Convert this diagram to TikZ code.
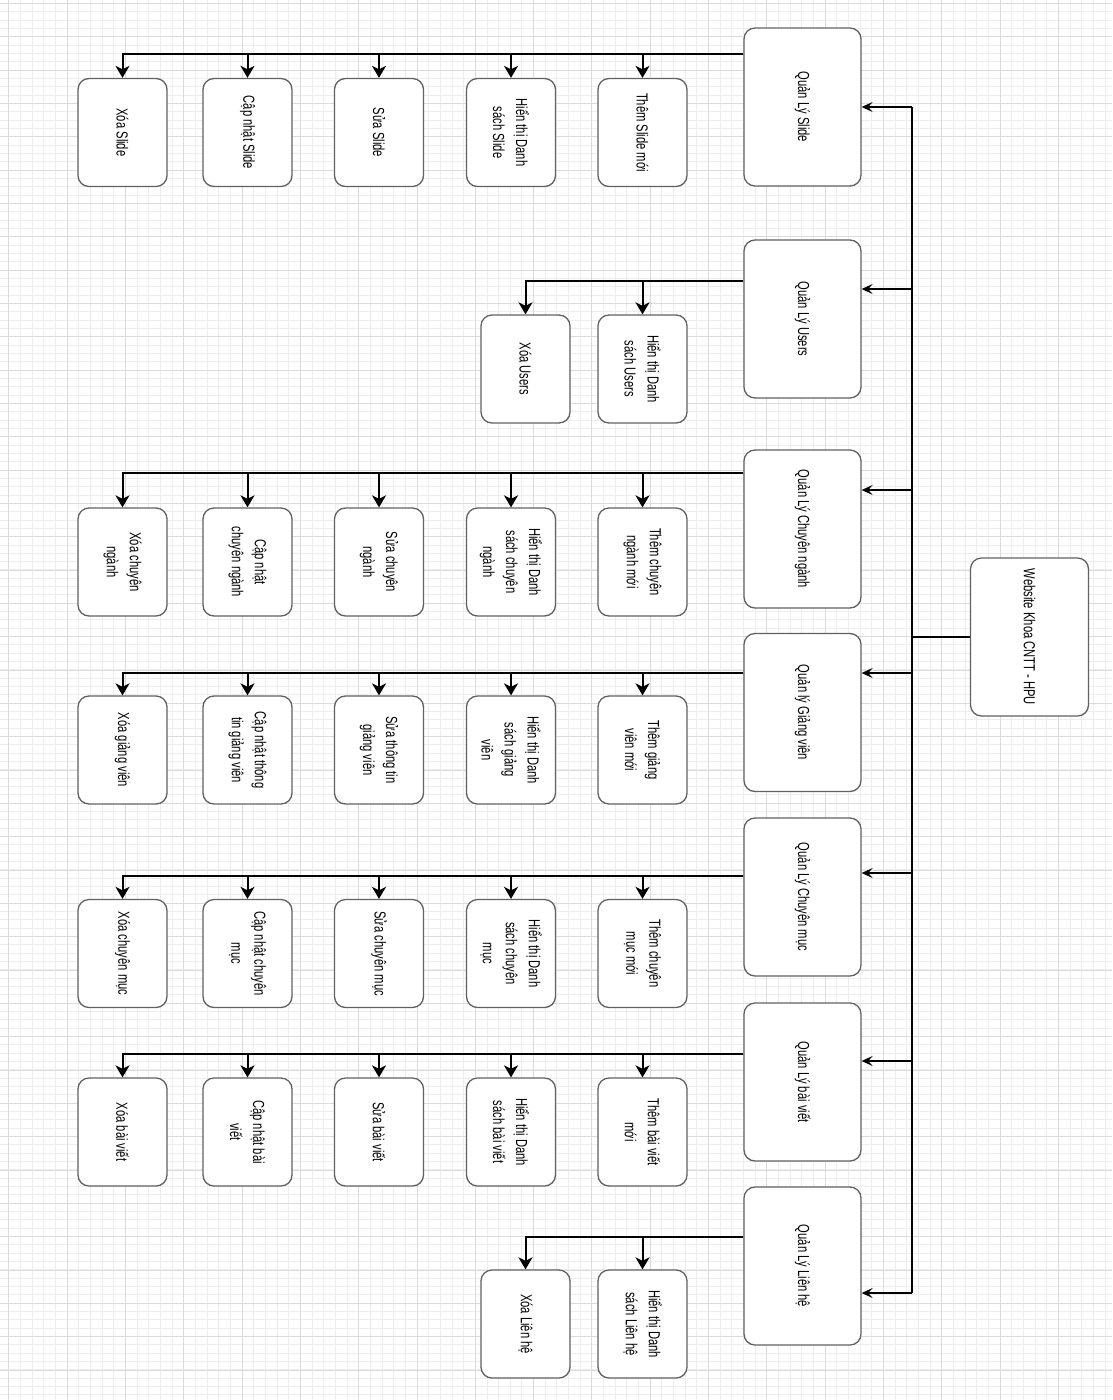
\documentclass[tikz,border=0pt]{standalone}
\usepackage{fontspec}
\setmainfont{Liberation Sans}
\newfontfamily\boxfont[FakeStretch=0.7]{Liberation Sans}
\usetikzlibrary{arrows.meta,calc}
\tikzset{
  gridminor/.style={draw=black!7, line width=0.5pt},
  gridmajor/.style={draw=black!14, line width=0.6pt},
  box/.style={draw=black!62, line width=1.3pt, rounded corners=11pt, fill=white,
    rotate=-90, align=center, inner sep=2pt, text=black,
    font={\boxfont\fontsize{16pt}{23pt}\selectfont}},
  leaf/.style={box, minimum width=108pt, minimum height=89pt},
  mgr/.style={box, minimum width=158pt, minimum height=117pt},
  rootbox/.style={box, minimum width=158pt, minimum height=118pt},
  busline/.style={line width=2.2pt},
  subarrow/.style={line width=2pt, -{Stealth[length=12pt,width=14pt,inset=3.5pt]}},
  busarrow/.style={line width=1.5pt, -{Stealth[length=11pt,width=10pt,inset=4.5pt]}},
}
\begin{document}
\begin{tikzpicture}[x=1pt,y=-1pt]
\useasboundingbox (0,0) rectangle (1112,1400);
\fill[white] (0,0) rectangle (1112,1400);
% grid
\foreach \i in {0,...,95} \draw[gridminor] ({8.7+\i*11.66},0) -- ({8.7+\i*11.66},1400);
\foreach \i in {0,...,168} \draw[gridminor] (0,{3.3+\i*8.33}) -- (1112,{3.3+\i*8.33});
\foreach \i in {0,...,19} \draw[gridmajor] ({8.7+\i*58.3},0) -- ({8.7+\i*58.3},1400);
\foreach \i in {0,...,42} \draw[gridmajor] (0,{3.3+\i*33.33}) -- (1112,{3.3+\i*33.33});

% root
\node[rootbox] (root) at (1029.5,637) {Website Khoa CNTT - HPU};

% managers
\node[mgr] (mS) at (802.5,107) {Quản Lý Slide};
\node[mgr] (mU) at (802.5,319) {Quản Lý Users};
\node[mgr] (mN) at (802.5,529) {Quản Lý Chuyên ngành};
\node[mgr] (mG) at (802.5,712.5) {Quản lý Giảng viên};
\node[mgr] (mM) at (802.5,897) {Quản Lý Chuyên mục};
\node[mgr] (mB) at (802.5,1082) {Quản Lý bài viết};
\node[mgr] (mL) at (802.5,1266) {Quản Lý Liên hệ};

% Slide leaves
\node[leaf] (s1) at (122.5,132.5) {Xóa Slide};
\node[leaf] (s2) at (247.5,132.5) {Cập nhật Slide};
\node[leaf] (s3) at (379,132.5) {Sửa Slide};
\node[leaf] (s4) at (511,132.5) {Hiển thị Danh\\sách Slide};
\node[leaf] (s5) at (642.5,132.5) {Thêm Slide mới};

% Users leaves
\node[leaf] (u1) at (525.5,369) {Xóa Users};
\node[leaf] (u2) at (642.5,369) {Hiển thị Danh\\sách Users};

% Chuyen nganh leaves
\node[leaf] (n1) at (122.5,562) {Xóa chuyên\\ngành};
\node[leaf] (n2) at (247.5,562) {Cập nhật\\chuyên ngành};
\node[leaf] (n3) at (379,562) {Sửa chuyên\\ngành};
\node[leaf] (n4) at (511,562) {Hiển thị Danh\\sách chuyên\\ngành};
\node[leaf] (n5) at (642.5,562) {Thêm chuyên\\ngành mới};

% Giang vien leaves
\node[leaf] (g1) at (122.5,750) {Xóa giảng viên};
\node[leaf] (g2) at (247.5,750) {Cập nhật thông\\tin giảng viên};
\node[leaf] (g3) at (379,750) {Sửa thông tin\\giảng viên};
\node[leaf] (g4) at (511,750) {Hiển thị Danh\\sách giảng\\viên};
\node[leaf] (g5) at (642.5,750) {Thêm giảng\\viên mới};

% Chuyen muc leaves
\node[leaf] (c1) at (122.5,953.5) {Xóa chuyên mục};
\node[leaf] (c2) at (247.5,953.5) {Cập nhật chuyên\\mục};
\node[leaf] (c3) at (379,953.5) {Sửa chuyên mục};
\node[leaf] (c4) at (511,953.5) {Hiển thị Danh\\sách chuyên\\mục};
\node[leaf] (c5) at (642.5,953.5) {Thêm chuyên\\mục mới};

% Bai viet leaves
\node[leaf] (b1) at (122.5,1132) {Xóa bài viết};
\node[leaf] (b2) at (247.5,1132) {Cập nhật bài\\viết};
\node[leaf] (b3) at (379,1132) {Sửa bài viết};
\node[leaf] (b4) at (511,1132) {Hiển thị Danh\\sách bài viết};
\node[leaf] (b5) at (642.5,1132) {Thêm bài viết\\mới};

% Lien he leaves
\node[leaf] (l1) at (525.5,1324) {Xóa Liên hệ};
\node[leaf] (l2) at (642.5,1324) {Hiển thị Danh\\sách Liên hệ};

% bus
\coordinate (bus) at (912,637);
\draw[busline] (root.south) -- (root.south -| bus);
\draw[busline] (mS.north -| bus) -- ([yshift=-27pt]mL.north -| bus);
\draw[busarrow] (mS.north -| bus) -- (mS.north);
\draw[busarrow] ([yshift=30pt]mU.north -| bus) -- ([yshift=30pt]mU.north);
\draw[busarrow] ([yshift=39pt]mN.north -| bus) -- ([yshift=39pt]mN.north);
\draw[busarrow] ([yshift=39.5pt]mG.north -| bus) -- ([yshift=39.5pt]mG.north);
\draw[busarrow] ([yshift=24pt]mM.north -| bus) -- ([yshift=24pt]mM.north);
\draw[busarrow] ([yshift=21pt]mB.north -| bus) -- ([yshift=21pt]mB.north);
\draw[busarrow] ([yshift=-27pt]mL.north -| bus) -- ([yshift=-27pt]mL.north);

% sub edges
\foreach \c in {s1,s2,s3,s4,s5} \draw[subarrow] ([yshift=53pt]mS.south) -| (\c.west);
\foreach \c in {u1,u2} \draw[subarrow] ([yshift=38pt]mU.south) -| (\c.west);
\foreach \c in {n1,n2,n3,n4,n5} \draw[subarrow] ([yshift=56pt]mN.south) -| (\c.west);
\foreach \c in {g1,g2,g3,g4,g5} \draw[subarrow] ([yshift=39.5pt]mG.south) -| (\c.west);
\foreach \c in {c1,c2,c3,c4,c5} \draw[subarrow] ([yshift=21pt]mM.south) -| (\c.west);
\foreach \c in {b1,b2,b3,b4,b5} \draw[subarrow] ([yshift=28pt]mB.south) -| (\c.west);
\foreach \c in {l1,l2} \draw[subarrow] ([yshift=29pt]mL.south) -| (\c.west);
\end{tikzpicture}
\end{document}
